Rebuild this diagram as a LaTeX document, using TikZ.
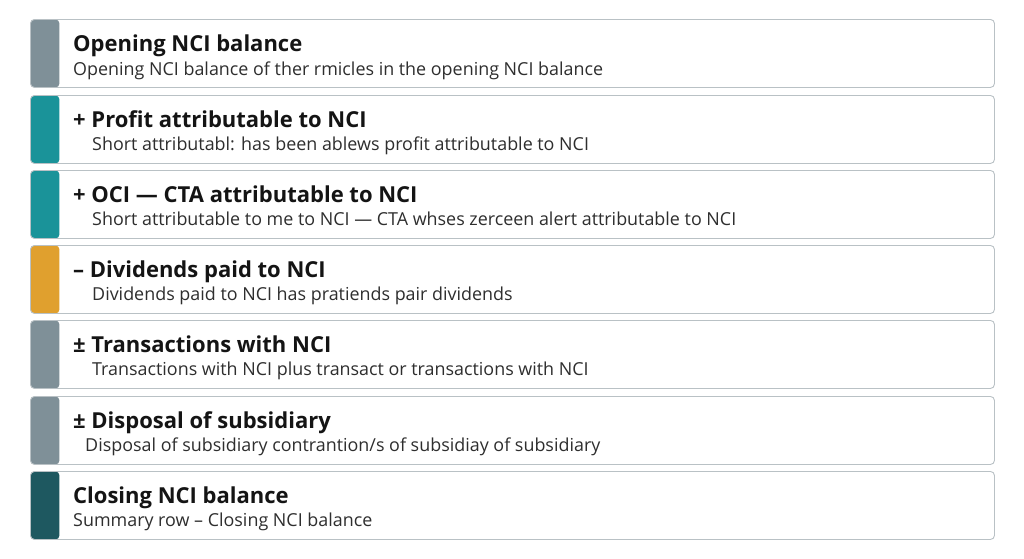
\documentclass[tikz,border=0pt]{standalone}
\usepackage{fontspec}
\IfFontExistsTF{Noto Sans Bold}
	{\setmainfont{Noto Sans}[BoldFont={Noto Sans Bold}]}
	{\setmainfont{Open Sans}}
\definecolor{bargray}{HTML}{7F9098}
\definecolor{barteal}{HTML}{1A9399}
\definecolor{barorange}{HTML}{E0A02E}
\definecolor{bardark}{HTML}{1E5860}
\definecolor{rowline}{HTML}{B9C1C5}
\definecolor{subtext}{HTML}{2E2E2E}
\tikzset{
	rowbox/.style={draw=rowline, line width=0.9pt, rounded corners=4pt, fill=white,
		minimum width=964pt, minimum height=68pt, inner sep=0pt, anchor=north west,
		path picture={\fill[#1] (path picture bounding box.north west) rectangle ([xshift=29pt]path picture bounding box.south west);}},
	rowtitle/.style={anchor=base west, inner sep=0pt, font=\fontsize{22}{26}\selectfont\bfseries, text=black!92},
	rowsub/.style={anchor=base west, inner sep=0pt, font=\fontsize{17.9}{21}\selectfont, text=subtext},
}
\begin{document}
\begin{tikzpicture}[x=1pt,y=-1pt]
	\useasboundingbox (0,0) rectangle (1024,558);
	% rows
	\node (opening)   at (30,19)  [rowbox=bargray] {};
	\node (profit)    at (30,95)  [rowbox=barteal] {};
	\node (oci)       at (30,170) [rowbox=barteal] {};
	\node (dividends) at (30,245) [rowbox=barorange] {};
	\node (trans)     at (30,320) [rowbox=bargray] {};
	\node (disposal)  at (30,396) [rowbox=bargray] {};
	\node (closing)   at (30,471) [rowbox=bardark] {};
	%
	\node (openingT)   at (73,51)  [rowtitle] {Opening NCI balance};
	\node (openingS)   at (73,75)  [rowsub] {Opening NCI balance of ther rmicles in the opening NCI balance};
	%
	\node (profitT)    at (73,127) [rowtitle] {+ Profit attributable to NCI};
	\node (profitS)    at (92,150) [rowsub] {Short attributabl: has been ablews profit attributable to NCI};
	%
	\node (ociT)       at (73,202) [rowtitle] {+ OCI — CTA attributable to NCI};
	\node (ociS)       at (92,225) [rowsub] {Short attributable to me to NCI — CTA whses zerceen alert attributable to NCI};
	%
	\node (dividendsT) at (73,277) [rowtitle] {– Dividends paid to NCI};
	\node (dividendsS) at (92,300) [rowsub] {Dividends paid to NCI has pratiends pair dividends};
	%
	\node (transT)     at (73,352) [rowtitle] {± Transactions with NCI};
	\node (transS)     at (92,375) [rowsub] {Transactions with NCI plus transact or transactions with NCI};
	%
	\node (disposalT)  at (73,428) [rowtitle] {± Disposal of subsidiary};
	\node (disposalS)  at (85,451) [rowsub] {Disposal of subsidiary contrantion/s of subsidiay of subsidiary};
	%
	\node (closingT)   at (73,503) [rowtitle] {Closing NCI balance};
	\node (closingS)   at (73,526) [rowsub] {Summary row – Closing NCI balance};
\end{tikzpicture}
\end{document}
